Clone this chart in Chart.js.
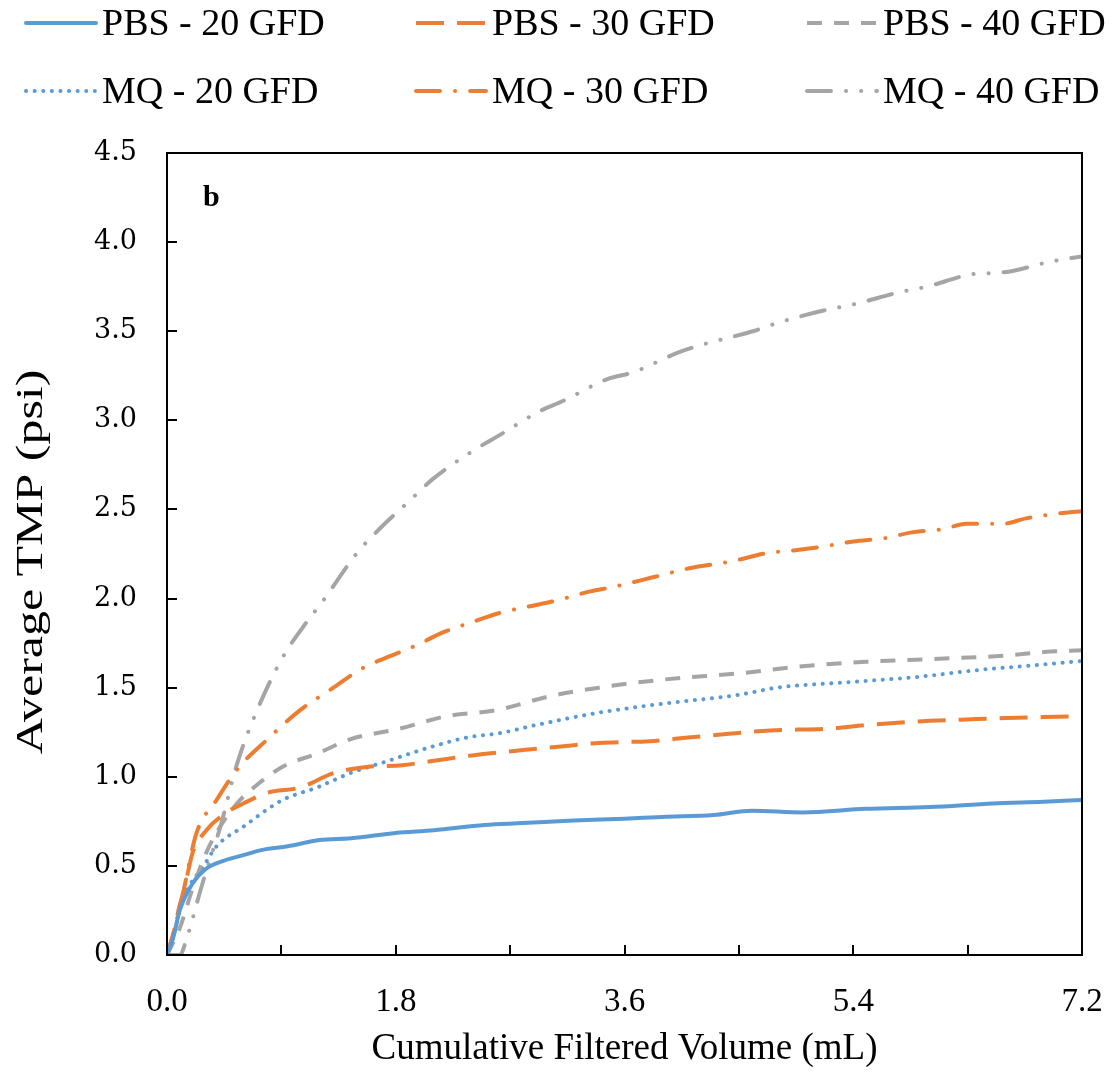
<!DOCTYPE html>
<html>
<head>
<meta charset="utf-8">
<title>Average TMP vs Cumulative Filtered Volume</title>
<script src="https://cdn.jsdelivr.net/npm/chart.js@4.4.1/dist/chart.umd.min.js"></script>
<style>
    html, body { margin: 0; padding: 0; background: #fff; overflow: hidden; }
    #wrap { width: 1117px; height: 1072px; position: relative; }
    #tmpChart { display: block; }
</style>
</head>
<body>
<div id="wrap"><canvas id="tmpChart"></canvas></div>
<script>
// Cumulative filtered volume (mL) and average TMP (psi) per run
const pbs20Vol = [0, 0.05, 0.1, 0.2, 0.3, 0.45, 0.6, 0.75, 0.95, 1.2, 1.45, 1.8, 2.1, 2.5, 2.8, 3.2, 3.6, 3.9, 4.3, 4.6, 5.0, 5.5, 6.0, 6.5, 6.9, 7.2];
const pbs20Tmp = [0, 0.1, 0.25, 0.4, 0.48, 0.53, 0.56, 0.59, 0.61, 0.645, 0.655, 0.685, 0.7, 0.73, 0.74, 0.755, 0.765, 0.775, 0.785, 0.81, 0.8, 0.82, 0.83, 0.85, 0.86, 0.87];

const pbs30Vol = [0, 0.05, 0.1, 0.13, 0.2, 0.31, 0.47, 0.6, 0.79, 1.05, 1.31, 1.57, 1.85, 2.1, 2.4, 2.8, 3.1, 3.4, 3.8, 4.1, 4.4, 4.75, 5.2, 5.5, 5.9, 6.25, 6.6, 6.9, 7.2];
const pbs30Tmp = [0, 0.12, 0.28, 0.35, 0.57, 0.7, 0.8, 0.85, 0.91, 0.94, 1.02, 1.055, 1.065, 1.09, 1.12, 1.15, 1.17, 1.19, 1.2, 1.22, 1.24, 1.26, 1.27, 1.29, 1.31, 1.32, 1.33, 1.335, 1.34];

const pbs40Vol = [0, 0.1, 0.2, 0.3, 0.4, 0.55, 0.7, 0.92, 1.18, 1.44, 1.83, 2.2, 2.6, 3.0, 3.4, 3.9, 4.5, 5.0, 5.5, 6.0, 6.6, 6.9, 7.2];
const pbs40Tmp = [0, 0.15, 0.37, 0.56, 0.7, 0.85, 0.95, 1.06, 1.13, 1.21, 1.27, 1.34, 1.375, 1.45, 1.5, 1.545, 1.58, 1.62, 1.645, 1.66, 1.68, 1.7, 1.71];

const mq20Vol = [0, 0.05, 0.1, 0.17, 0.28, 0.39, 0.6, 0.91, 1.18, 1.44, 1.7, 2.09, 2.36, 2.62, 2.9, 3.4, 3.9, 4.5, 4.8, 5.35, 5.9, 6.4, 6.9, 7.2];
const mq20Tmp = [0, 0.1, 0.25, 0.38, 0.49, 0.61, 0.72, 0.87, 0.94, 1.02, 1.08, 1.17, 1.22, 1.245, 1.29, 1.36, 1.41, 1.46, 1.5, 1.53, 1.56, 1.6, 1.63, 1.65];

const mq30Vol = [0, 0.05, 0.13, 0.23, 0.39, 0.55, 0.79, 1.05, 1.31, 1.54, 1.73, 1.97, 2.17, 2.41, 2.62, 2.88, 3.07, 3.33, 3.51, 3.8, 4.11, 4.45, 4.72, 4.93, 5.19, 5.4, 5.66, 5.85, 6.11, 6.29, 6.58, 6.76, 7.05, 7.2];
const mq30Tmp = [0, 0.12, 0.36, 0.68, 0.87, 1.04, 1.21, 1.375, 1.5, 1.61, 1.67, 1.74, 1.81, 1.87, 1.92, 1.96, 1.99, 2.04, 2.065, 2.115, 2.17, 2.21, 2.255, 2.27, 2.295, 2.32, 2.34, 2.37, 2.39, 2.42, 2.42, 2.45, 2.48, 2.49];

const mq40Vol = [0, 0.1, 0.15, 0.2, 0.25, 0.3, 0.42, 0.55, 0.71, 0.91, 1.07, 1.23, 1.5, 1.65, 1.94, 2.09, 2.41, 2.6, 2.93, 3.12, 3.46, 3.67, 4.02, 4.19, 4.61, 4.82, 5.19, 5.4, 5.77, 5.98, 6.34, 6.58, 6.95, 7.2];
const mq40Tmp = [0, 0, 0.08, 0.2, 0.33, 0.45, 0.72, 1.07, 1.375, 1.67, 1.84, 1.99, 2.26, 2.375, 2.57, 2.67, 2.83, 2.91, 3.05, 3.11, 3.23, 3.27, 3.38, 3.42, 3.5, 3.55, 3.62, 3.65, 3.72, 3.75, 3.82, 3.83, 3.89, 3.92];

const seriesLabels = ['PBS - 20 GFD', 'PBS - 30 GFD', 'PBS - 40 GFD', 'MQ - 20 GFD', 'MQ - 30 GFD', 'MQ - 40 GFD'];
const yTitle = 'Average TMP (psi)';
const xTitle = 'Cumulative Filtered Volume (mL)';

const xTicks = { min: 0, max: 7.2, step: 0.9 };
const yTicks = { min: 0, max: 4.5, step: 0.5 };

const BLUE = '#5B9BD5';
const ORANGE = '#ED7D31';
const GRAY = '#A5A5A5';
const LINE_W = 4;
const SERIF = '"Liberation Serif", "Times New Roman", serif';

function toPoints(xs, ys) {
    return xs.map((x, i) => ({ x: x, y: ys[i] }));
}

function series(label, xs, ys, color, dash, cap) {
    return {
        label: label,
        data: toPoints(xs, ys),
        borderColor: color,
        backgroundColor: color,
        borderWidth: LINE_W,
        borderDash: dash,
        borderCapStyle: cap,
        pointRadius: 0,
        fill: false,
        cubicInterpolationMode: 'monotone'
    };
}

const datasets = [
    series(seriesLabels[0], pbs20Vol, pbs20Tmp, BLUE, [], 'round'),
    series(seriesLabels[1], pbs30Vol, pbs30Tmp, ORANGE, [28, 13], 'butt'),
    series(seriesLabels[2], pbs40Vol, pbs40Tmp, GRAY, [15, 12], 'butt'),
    series(seriesLabels[3], mq20Vol, mq20Tmp, BLUE, [0.1, 8.5], 'round'),
    series(seriesLabels[4], mq30Vol, mq30Tmp, ORANGE, [24, 15, 0.1, 15], 'round'),
    series(seriesLabels[5], mq40Vol, mq40Tmp, GRAY, [24, 15, 0.1, 15, 0.1, 15], 'round')
];

// frame, inward tick marks, y title, panel letter and the 3x2 legend
const decorations = {
    id: 'decorations',
    afterDatasetsDraw(chart) {
        const { ctx, chartArea: a, scales } = chart;
        ctx.save();
        ctx.strokeStyle = '#000';
        ctx.lineWidth = 2;
        ctx.setLineDash([]);
        ctx.strokeRect(a.left, a.top, a.right - a.left, a.bottom - a.top);

        ctx.beginPath();
        scales.x.ticks.forEach(t => {
            const px = Math.round(scales.x.getPixelForValue(t.value));
            ctx.moveTo(px, a.bottom);
            ctx.lineTo(px, a.bottom - 10);
        });
        scales.y.ticks.forEach(t => {
            const py = Math.round(scales.y.getPixelForValue(t.value));
            ctx.moveTo(a.left, py);
            ctx.lineTo(a.left + 10, py);
        });
        ctx.stroke();

        // y title, slightly elongated
        ctx.fillStyle = '#000';
        ctx.save();
        ctx.translate(32, (a.top + a.bottom) / 2 + 8);
        ctx.rotate(-Math.PI / 2);
        ctx.scale(1.35, 1);
        ctx.font = '37px ' + SERIF;
        ctx.textAlign = 'center';
        ctx.textBaseline = 'middle';
        ctx.fillText(yTitle, 0, 0);
        ctx.restore();

        ctx.font = 'bold 30px ' + SERIF;
        ctx.textBaseline = 'alphabetic';
        ctx.textAlign = 'left';
        ctx.fillText('b', a.left + 36, a.top + 53);

        const colX = [26, 416, 807];
        const rowY = [23, 91];
        ctx.font = '38px ' + SERIF;
        ctx.textBaseline = 'middle';
        chart.data.datasets.forEach((ds, i) => {
            const x0 = colX[i % 3];
            const y0 = rowY[Math.floor(i / 3)];
            ctx.beginPath();
            ctx.strokeStyle = ds.borderColor;
            ctx.lineWidth = ds.borderWidth;
            ctx.lineCap = ds.borderCapStyle;
            ctx.setLineDash(ds.borderDash);
            ctx.moveTo(x0, y0);
            ctx.lineTo(x0 + 70, y0);
            ctx.stroke();
            ctx.setLineDash([]);
            ctx.fillStyle = '#000';
            ctx.fillText(ds.label, x0 + 76, y0 + 2);
        });
        ctx.restore();
    }
};

const ctx = document.getElementById('tmpChart').getContext('2d');
new Chart(ctx, {
    type: 'line',
    data: { datasets: datasets },
    options: {
        responsive: true,
        maintainAspectRatio: false,
        animation: false,
        layout: { padding: { top: 153, right: 35, left: 0, bottom: 0 } },
        plugins: {
            legend: { display: false },
            tooltip: { enabled: false }
        },
        scales: {
            x: {
                type: 'linear',
                min: xTicks.min,
                max: xTicks.max,
                afterFit: scale => {
                    scale.height = 117;
                    // let the layout padding alone set the plot edges
                    scale.paddingLeft = 0;
                    scale.paddingRight = 0;
                },
                grid: { drawOnChartArea: false, drawTicks: false },
                border: { display: false },
                ticks: {
                    stepSize: xTicks.step,
                    autoSkip: false,
                    maxRotation: 0,
                    padding: 28,
                    color: '#000',
                    font: { family: SERIF, size: 33 },
                    callback: v => (Math.round(v / xTicks.step) % 2 === 0 ? v.toFixed(1) : '')
                },
                title: {
                    display: true,
                    text: xTitle,
                    color: '#000',
                    padding: { top: 0, bottom: 1 },
                    font: { family: SERIF, size: 37 }
                }
            },
            y: {
                type: 'linear',
                min: yTicks.min,
                max: yTicks.max,
                afterFit: scale => {
                    scale.width = 167;
                    scale.paddingTop = 0;
                    scale.paddingBottom = 0;
                },
                grid: { drawOnChartArea: false, drawTicks: false },
                border: { display: false },
                ticks: {
                    stepSize: yTicks.step,
                    padding: 30,
                    color: '#000',
                    font: { family: '"DejaVu Serif", serif', size: 27 },
                    callback: v => v.toFixed(1)
                }
            }
        }
    },
    plugins: [decorations]
});
</script>
</body>
</html>
